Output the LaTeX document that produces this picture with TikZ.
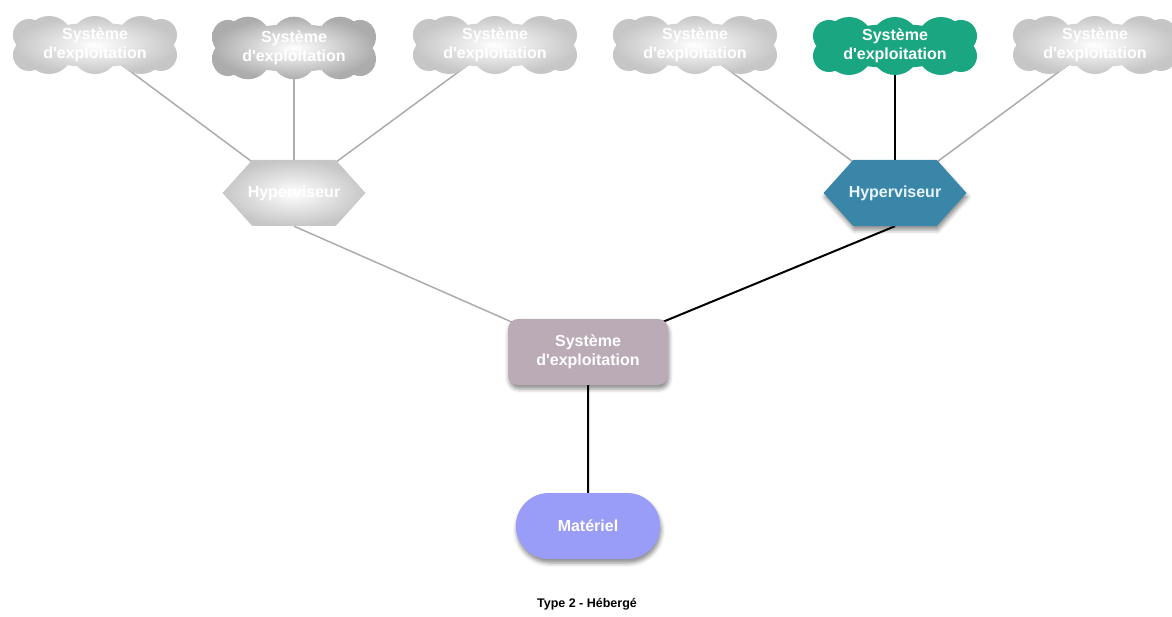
\documentclass[tikz,border=0pt]{standalone}
\usepackage{fontspec}
\setmainfont{Liberation Sans}
\usetikzlibrary{shapes.symbols,shapes.misc,shadows.blur,backgrounds}

\definecolor{fadegray}{RGB}{198,198,198}
\definecolor{midgray}{RGB}{172,172,172}
\definecolor{linegray}{RGB}{172,172,172}
\definecolor{osgreen}{RGB}{26,166,128}
\definecolor{hvblue}{RGB}{58,134,168}
\definecolor{hostmauve}{RGB}{186,171,183}
\definecolor{hwblue}{RGB}{154,157,248}
\definecolor{paletext}{RGB}{232,244,255}

\newcommand{\osname}{Système\\d\textquotesingle exploitation}

\begin{document}
\begin{tikzpicture}[x=1pt,y=-1pt,
  lbl/.style={font=\bfseries\fontsize{16}{19.5}\selectfont, text=white, align=center},
  softshadow/.style={blur shadow={shadow xshift=1pt, shadow yshift=-4pt,
      shadow blur radius=4pt, shadow opacity=45}},
  osbox/.style={rectangle, minimum width=164pt, minimum height=58pt, inner sep=0pt, lbl},
  fadefill/.style={shading=radial, inner color=white, outer color=fadegray},
  hexbox/.style={signal, signal to=east and west, signal pointer angle=96,
      minimum height=66pt, inner xsep=-4.5pt, inner ysep=0pt, lbl},
  graylink/.style={draw=linegray, line width=1.5pt},
  blacklink/.style={draw=black, line width=2pt},
  % scalloped outline: a body ellipse with ten puffs around it
  cloudpuffs/.pic={
    \path[pic actions]
      (0,0) ellipse [x radius=70, y radius=22]
      (-46,-5) circle [radius=24] (0,-5) circle [radius=24] (46,-5) circle [radius=24]
      (-46,5) circle [radius=24]  (0,5) circle [radius=24]  (46,5) circle [radius=24]
      (-66,-10) circle [radius=16] (-66,10) circle [radius=16]
      (66,-10) circle [radius=16]  (66,10) circle [radius=16];
  }
]
\useasboundingbox (0,0) rectangle (1172,617);

% guest systems (text boxes; outlines are drawn on the background layer)
\node[osbox] (c1) at (95,45) {\osname};
\node[osbox] (c2) at (294,48) {\osname};
\node[osbox] (c3) at (495,45) {\osname};
\node[osbox] (c4) at (695,45) {\osname};
\node[osbox] (c5) at (895,46) {\osname};
\node[osbox] (c6) at (1095,45) {\osname};

% hypervisors
\node[hexbox, fadefill] (h1) at (294,193) {Hyperviseur};
\node[hexbox, fill=hvblue, text=paletext, softshadow] (h2) at (895,193) {Hyperviseur};

% host system and hardware
\node[rectangle, rounded corners=10pt, fill=hostmauve, minimum width=160pt,
      minimum height=66pt, lbl, softshadow] (host) at (588,352) {\osname};
\node[rounded rectangle, fill=hwblue, minimum width=151pt, minimum height=66pt,
      lbl, softshadow] (hw) at (588,526) {Matériel};

\node[font=\bfseries\fontsize{12.5}{15}\selectfont] (cap) at (587,604) {Type 2 - Hébergé};

\begin{scope}[on background layer]
% connectors, behind every shape
\draw[graylink] (c1.center) -- (h1.center);
\draw[graylink] (c2.center) -- (h1.center);
\draw[graylink] (c3.center) -- (h1.center);
\draw[graylink] (c4.center) -- (h2.center);
\draw[blacklink] (c5.center) -- (h2.center);
\draw[graylink] (c6.center) -- (h2.center);
\draw[graylink] (h1.south) -- ([xshift=8pt,yshift=-5pt]host.north west);
\draw[blacklink] (h2.south) -- ([xshift=-10pt,yshift=-5pt]host.north east);
\draw[blacklink] (host) -- (hw);
% cloud outlines
\pic[fadefill] at (c1) {cloudpuffs};
\pic[yscale=1.08, softshadow, shading=radial, inner color=white, outer color=midgray] at (c2) {cloudpuffs};
\pic[fadefill] at (c3) {cloudpuffs};
\pic[fadefill] at (c4) {cloudpuffs};
\pic[fill=osgreen, softshadow] at (c5) {cloudpuffs};
\pic[fadefill] at (c6) {cloudpuffs};
\end{scope}
\end{tikzpicture}
\end{document}
